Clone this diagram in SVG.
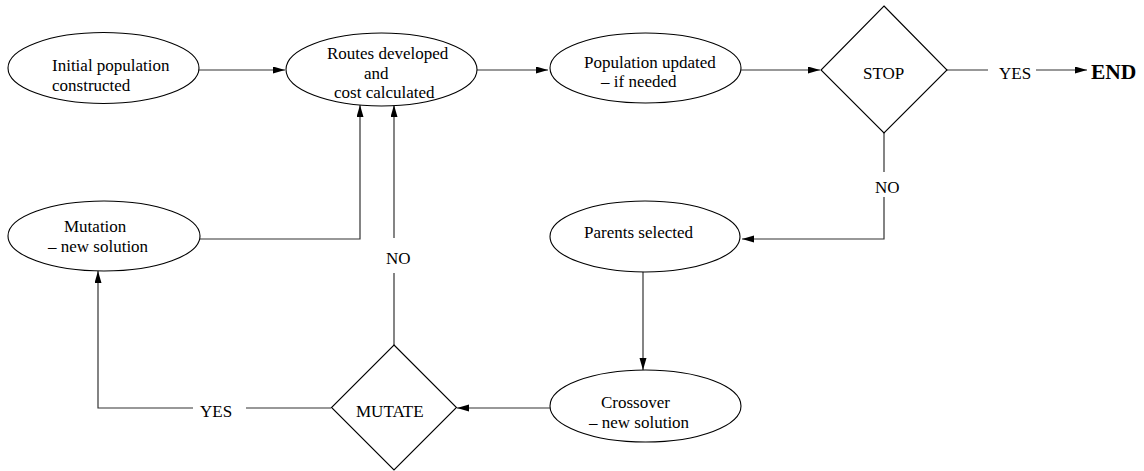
<svg xmlns="http://www.w3.org/2000/svg" width="1144" height="471" viewBox="0 0 1144 471" font-family="'Liberation Serif', 'Times New Roman', serif">
<style>
.shape{fill:#fff;stroke:#000;stroke-width:1.1}
.conn{fill:none;stroke:#333;stroke-width:1.2}
text{font-family:"Liberation Serif","Times New Roman",serif;font-size:17px;fill:#000}
.end{font-weight:bold;font-size:21.5px}
</style>
<defs>
<marker id="arr" markerUnits="userSpaceOnUse" markerWidth="13" markerHeight="8" refX="12" refY="3.5" orient="auto">
<path d="M0,0 L12,3.5 L0,7 z" fill="#000"/>
</marker>
</defs>
<g id="connectors">
<path class="conn" d="M199,70 H285" marker-end="url(#arr)"/>
<path class="conn" d="M477,70 H548" marker-end="url(#arr)"/>
<path class="conn" d="M741,70 H820" marker-end="url(#arr)"/>
<path class="conn" d="M947,70 H988"/>
<text x="999" y="79">YES</text>
<path class="conn" d="M1036,70 H1087" marker-end="url(#arr)"/>
<path class="conn" d="M884,133 V172"/>
<text x="875" y="193">NO</text>
<path class="conn" d="M884,197 V239 H742" marker-end="url(#arr)"/>
<path class="conn" d="M643,272 V370" marker-end="url(#arr)"/>
<path class="conn" d="M550,408 H457" marker-end="url(#arr)"/>
<path class="conn" d="M331,408 H246"/>
<text x="200" y="417">YES</text>
<path class="conn" d="M193,408 H98 V271" marker-end="url(#arr)"/>
<path class="conn" d="M394,345 V273"/>
<text x="386" y="264">NO</text>
<path class="conn" d="M394,238 V105" marker-end="url(#arr)"/>
<path class="conn" d="M200,239 H360 V105" marker-end="url(#arr)"/>
</g>
<g id="initial">
<ellipse class="shape" cx="103.5" cy="68" rx="95.5" ry="35.5"/>
<text x="52" y="71">Initial population</text>
<text x="52" y="91">constructed</text>
</g>
<g id="routes">
<ellipse class="shape" cx="381.5" cy="69.5" rx="95.5" ry="36.5"/>
<text x="327" y="59">Routes developed</text>
<text x="364" y="78.5">and</text>
<text x="334" y="98">cost calculated</text>
</g>
<g id="population">
<ellipse class="shape" cx="645.5" cy="68" rx="95.5" ry="35"/>
<text x="584" y="67.5">Population updated</text>
<text x="601" y="87">– if needed</text>
</g>
<g id="stop">
<polygon class="shape" points="884,6 947,70 884,133 821,70"/>
<text x="863" y="79">STOP</text>
</g>
<g id="end">
<text class="end" x="1091" y="79">END</text>
</g>
<g id="mutation">
<ellipse class="shape" cx="104" cy="236" rx="96" ry="35"/>
<text x="64" y="231.5">Mutation</text>
<text x="48" y="251.5">– new solution</text>
</g>
<g id="parents">
<ellipse class="shape" cx="645" cy="236.5" rx="95" ry="35.5"/>
<text x="584" y="238">Parents selected</text>
</g>
<g id="crossover">
<ellipse class="shape" cx="645.5" cy="406" rx="95.5" ry="36"/>
<text x="601" y="408">Crossover</text>
<text x="589" y="428">– new solution</text>
</g>
<g id="mutate">
<polygon class="shape" points="394,345 456.5,407.5 394,470 331.5,407.5"/>
<text x="356" y="416.5">MUTATE</text>
</g>
</svg>
